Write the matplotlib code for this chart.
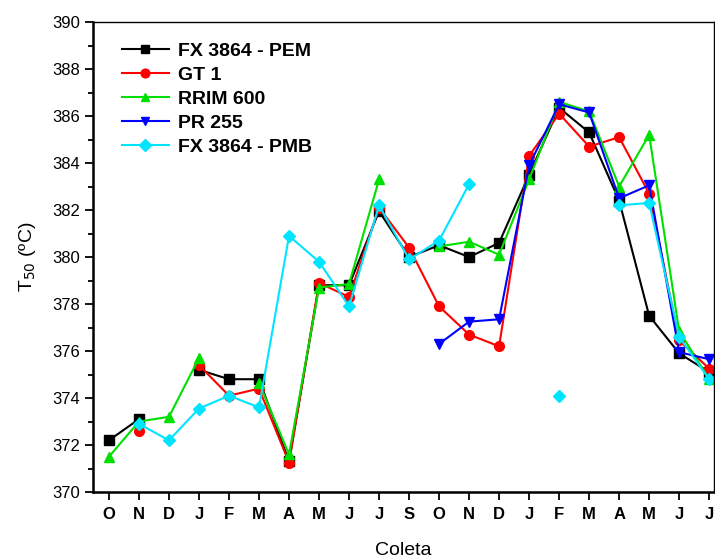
#!/usr/bin/env python3
"""T50 per coleta for five clones, drawn as marker lines."""

import numpy as np
import matplotlib
matplotlib.use("Agg")
import matplotlib.pyplot as plt
from matplotlib.ticker import MultipleLocator

nan = np.nan

months = ["O", "N", "D", "J", "F", "M", "A", "M", "J", "J", "S",
          "O", "N", "D", "J", "F", "M", "A", "M", "J", "J"]

fx_pem = [372.2, 373.1, nan, 375.2, 374.8, 374.8, 371.3, 378.8, 378.8, 381.95, 380.0,
          380.5, 380.0, 380.6, 383.5, 386.35, 385.3, 382.4, 377.5, 375.9, 375.1]
gt1 = [nan, 372.6, nan, 375.4, 374.1, 374.4, 371.25, 378.9, 378.3, 382.1, 380.4,
       377.9, 376.7, 376.2, 384.3, 386.1, 384.7, 385.1, 382.7, 376.45, 375.25]
rrim600 = [371.5, 373.0, 373.2, 375.7, nan, 374.65, 371.6, 378.7, 378.85, 383.3, nan,
           380.45, 380.65, 380.1, 383.3, 386.6, 386.2, 383.0, 385.2, 376.85, 374.8]
pr255 = [nan, nan, nan, nan, nan, nan, nan, nan, nan, nan, nan,
         376.3, 377.25, 377.35, 383.9, 386.5, 386.15, 382.5, 383.05, 375.95, 375.65]
fx_pmb = [nan, 372.9, 372.2, 373.55, 374.1, 373.6, 380.9, 379.8, 377.9, 382.2, 379.9,
          380.7, 383.1, nan, nan, 374.1, nan, 382.2, 382.3, 376.6, 374.8]

series = [
    ("FX 3864 - PEM", fx_pem, "black", "s"),
    ("GT 1", gt1, "#ff0000", "o"),
    ("RRIM 600", rrim600, "#00e000", "^"),
    ("PR 255", pr255, "#0000ff", "v"),
    ("FX 3864 - PMB", fx_pmb, "#00e5ff", "D"),
]

plt.rcParams["font.family"] = ["Liberation Sans", "DejaVu Sans"]

fig = plt.figure(figsize=(7.15, 5.6), dpi=100)
ax = fig.add_axes([0.130, 0.1214, 0.869, 0.8393])

x = np.arange(len(months))
for label, values, color, marker in series:
    ms = 6.5 if marker == "D" else 7
    ax.plot(x, values, color=color, marker=marker, markersize=ms,
            linewidth=1.5, label=label)

ax.set_xlim(-0.533, 20.17)
ax.set_ylim(370, 390)
ax.set_xticks(x)
ax.set_xticklabels(months, fontweight="bold", fontsize=12)
ax.yaxis.set_major_locator(MultipleLocator(2))
ax.yaxis.set_minor_locator(MultipleLocator(1))
ax.tick_params(axis="y", which="major", direction="out", length=6, width=1.3, labelsize=12)
ax.tick_params(axis="y", which="minor", direction="out", length=3.5, width=1.3)
ax.tick_params(axis="x", direction="out", length=6, width=1.3, pad=5)
for side in ("left", "bottom"):
    ax.spines[side].set_linewidth(1.8)
for side in ("top", "right"):
    ax.spines[side].set_linewidth(1.0)

ax.set_xlabel("Coleta", fontsize=14, labelpad=14)
ax.set_ylabel("T$_{50}$ (ºC)", fontsize=14, labelpad=10)

ax.legend(loc="upper left", bbox_to_anchor=(0.025, 0.985), frameon=False,
          prop={"weight": "bold", "size": 14}, handlelength=2.4,
          labelspacing=0.32, handletextpad=0.5, borderaxespad=0.3,
          markerscale=0.9)

fig.savefig("out.png", dpi=100)
